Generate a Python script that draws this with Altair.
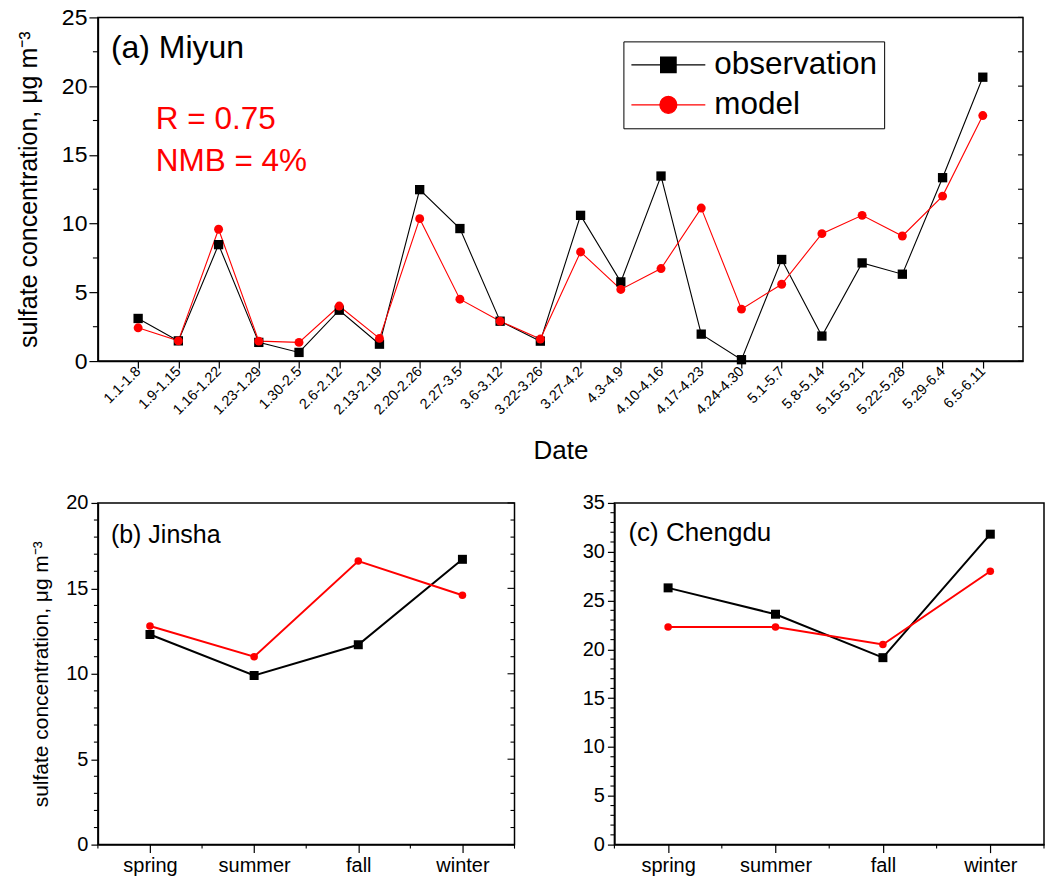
import json
import altair as alt
import pandas as pd

FONT = "Liberation Sans"

# ---------------- data ----------------
dates = ["1.1-1.8", "1.9-1.15", "1.16-1.22", "1.23-1.29", "1.30-2.5", "2.6-2.12",
         "2.13-2.19", "2.20-2.26", "2.27-3.5", "3.6-3.12", "3.22-3.26", "3.27-4.2",
         "4.3-4.9", "4.10-4.16", "4.17-4.23", "4.24-4.30", "5.1-5.7", "5.8-5.14",
         "5.15-5.21", "5.22-5.28", "5.29-6.4", "6.5-6.11"]
obs_miyun = [3.1, 1.47, 8.47, 1.36, 0.63, 3.7, 1.23, 12.47, 9.64, 2.9, 1.45,
             10.6, 5.76, 13.46, 1.96, 0.1, 7.39, 1.82, 7.14, 6.32, 13.34, 20.65]
mod_miyun = [2.42, 1.47, 9.59, 1.45, 1.36, 4.0, 1.65, 10.36, 4.5, 2.9, 1.6,
             7.94, 5.21, 6.73, 11.13, 3.78, 5.59, 9.27, 10.6, 9.1, 12.0, 17.86]

seasons = ["spring", "summer", "fall", "winter"]
obs_jinsha = [12.3, 9.9, 11.7, 16.7]
mod_jinsha = [12.8, 11.0, 16.6, 14.6]
obs_chengdu = [26.3, 23.6, 19.15, 31.8]
mod_chengdu = [22.3, 22.3, 20.5, 28.0]

series_names = ["observation", "model"]
YTITLE = "sulfate concentration, μg m⁻³"

# tick positions (axis decoration)
miyun_y_major = [0, 5, 10, 15, 20, 25]
miyun_y_minor = [2.5, 7.5, 12.5, 17.5, 22.5]
jinsha_y_major = [0, 5, 10, 15, 20]
jinsha_y_minor = [v for v in range(0, 21) if v % 5 != 0]
chengdu_y_major = [0, 5, 10, 15, 20, 25, 30, 35]
chengdu_y_minor = [v for v in range(0, 36) if v % 5 != 0]
season_minor = [0.5, 1.5, 2.5, 3.5, 4.5]


def frame(names, obs, mod):
    return pd.DataFrame({
        "idx": list(range(1, len(names) + 1)),
        "name": names,
        "obs": obs,
        "mod": mod,
    })


def label_expr(names):
    n = len(names)
    arr = json.dumps(names)
    return ("(datum.value >= 1 && datum.value <= " + str(n)
            + ") ? " + arr + "[round(datum.value) - 1] : ''")


def common_axis():
    return dict(grid=False, domainColor="black", tickColor="black", labelColor="black",
                domainWidth=1.5, tickWidth=1.2, labelFont=FONT, titleFont=FONT,
                titleColor="black", titleFontWeight="normal", labelOverlap=False)


def series(df, xdom, xaxis, ydom, yaxis, line_w, sq_size, ci_size):
    x = alt.X("idx:Q", scale=alt.Scale(domain=xdom, nice=False, zero=False), axis=xaxis)
    base = alt.Chart(df)
    obs_line = base.mark_line(color="black", strokeWidth=line_w).encode(
        x=x, y=alt.Y("obs:Q", scale=alt.Scale(domain=ydom, nice=False), axis=yaxis))
    mod_line = base.mark_line(color="red", strokeWidth=line_w).encode(x=x, y="mod:Q")
    obs_pts = base.mark_point(shape="square", filled=True, color="black", size=sq_size,
                              opacity=1).encode(x=x, y="obs:Q")
    mod_pts = base.mark_point(shape="circle", filled=True, color="red", size=ci_size,
                              opacity=1).encode(x=x, y="mod:Q")
    return [obs_line, mod_line, obs_pts, mod_pts]


def yticks(vals, x0, x1):
    return alt.Chart(pd.DataFrame({"v": vals})).mark_rule(color="black", strokeWidth=1.1).encode(
        y="v:Q", x=alt.value(x0), x2=alt.value(x1))


def xticks(vals, y0, y1):
    return alt.Chart(pd.DataFrame({"v": vals})).mark_rule(color="black", strokeWidth=1.1).encode(
        x="v:Q", y=alt.value(y0), y2=alt.value(y1))


def note(text, px, py, size, color="black"):
    return alt.Chart(pd.DataFrame({"t": [text]})).mark_text(
        align="left", baseline="alphabetic", font=FONT, fontSize=size, color=color
    ).encode(x=alt.value(px), y=alt.value(py), text="t:N")


# ---------------- panel (a) ----------------
WA, HA = 926, 344
df_a = frame(dates, obs_miyun, mod_miyun)
xaxis_a = alt.Axis(values=list(range(1, len(dates) + 1)), labelExpr=label_expr(dates),
                   tickSize=7, title="Date", titleFontSize=26, labelFontSize=14.5,
                   labelAngle=-45, labelAlign="right", labelBaseline="middle",
                   labelPadding=1, titlePadding=21, **common_axis())
yaxis_a = alt.Axis(values=miyun_y_major, tickSize=9, labelFontSize=23, labelPadding=2,
                   title=YTITLE, titleFontSize=25, titlePadding=20, **common_axis())
layers_a = series(df_a, [0, len(dates) + 1], xaxis_a, [0, 25], yaxis_a, 1.1, 87, 80)

sq_path = "M-1,0L1,0M-0.21,-0.21H0.21V0.21H-0.21Z"
ci_path = "M-1,0L1,0M0.23,0A0.23,0.23,0,1,1,-0.23,0A0.23,0.23,0,1,1,0.23,0Z"
leg = alt.Legend(
    title=None, orient="none", legendX=526, legendY=24,
    strokeColor="black", fillColor="white", padding=7,
    labelFont=FONT, labelFontSize=31.5, labelColor="black", labelOffset=8,
    labelLimit=400,
    symbolSize=5476, symbolStrokeWidth=1.2, clipHeight=33, rowPadding=7,
    labelBaseline="middle",
)
legend_layer = alt.Chart(pd.DataFrame({"series": series_names})).transform_filter(
    "false").mark_point(filled=True, opacity=1, size=5476, strokeWidth=1.2).encode(
    fill=alt.Fill("series:N", scale=alt.Scale(domain=series_names, range=["black", "red"]), legend=leg),
    stroke=alt.Stroke("series:N", scale=alt.Scale(domain=series_names, range=["black", "red"]), legend=leg),
    shape=alt.Shape("series:N", scale=alt.Scale(domain=series_names, range=[sq_path, ci_path]), legend=leg),
)

chart_a = alt.layer(
    *layers_a,
    yticks(miyun_y_minor, 0, -5),
    yticks(miyun_y_major + miyun_y_minor, WA, WA - 5),
    note("(a) Miyun", 13, 41, 32),
    note("R = 0.75", 58, 112, 31.5, "red"),
    note("NMB = 4%", 58, 154, 31.5, "red"),
    legend_layer,
).properties(width=WA, height=HA)

# ---------------- panels (b), (c) ----------------
WB, WC, HB = 417, 430, 342


def season_panel(df, ydom, ymajor, yminor, ytitle, width, right_ticks, label, lx, ly, lsize, tpad):
    xaxis = alt.Axis(values=[1, 2, 3, 4], labelExpr=label_expr(seasons), tickSize=8,
                     title=None, labelFontSize=20, labelPadding=3, labelAngle=0,
                     **common_axis())
    ykw = dict(values=ymajor, tickSize=7, labelFontSize=20, labelPadding=3, **common_axis())
    if ytitle:
        yaxis = alt.Axis(title=ytitle, titleFontSize=21, titlePadding=tpad, **ykw)
    else:
        yaxis = alt.Axis(title=None, **ykw)
    layers = series(df, [0.5, 4.5], xaxis, ydom, yaxis, 2.0, 81, 57)
    layers += [yticks(yminor, 0, -4), xticks(season_minor, HB, HB + 4)]
    if right_ticks:
        layers += [yticks(ymajor, width, width - 7), yticks(yminor, width, width - 4)]
    layers.append(note(label, lx, ly, lsize))
    return alt.layer(*layers).properties(width=width, height=HB)


chart_b = season_panel(frame(seasons, obs_jinsha, mod_jinsha), [0, 20], jinsha_y_major,
                       jinsha_y_minor, YTITLE, WB, True, "(b) Jinsha", 13, 40, 25, 14)
chart_c = season_panel(frame(seasons, obs_chengdu, mod_chengdu), [0, 35], chengdu_y_major,
                       chengdu_y_minor, None, WC, False, "(c) Chengdu", 14, 38, 26, 0)

bottom = alt.hconcat(chart_b, chart_c, spacing=100, bounds="flush")
chart = alt.vconcat(chart_a, bottom, spacing=142, bounds="flush").properties(
    padding={"left": 15, "top": 5, "right": 0, "bottom": 0},
    background="white",
).configure_view(stroke="black", strokeWidth=1.5)

chart.save("out.html", embed_options={"renderer": "svg", "actions": False})
